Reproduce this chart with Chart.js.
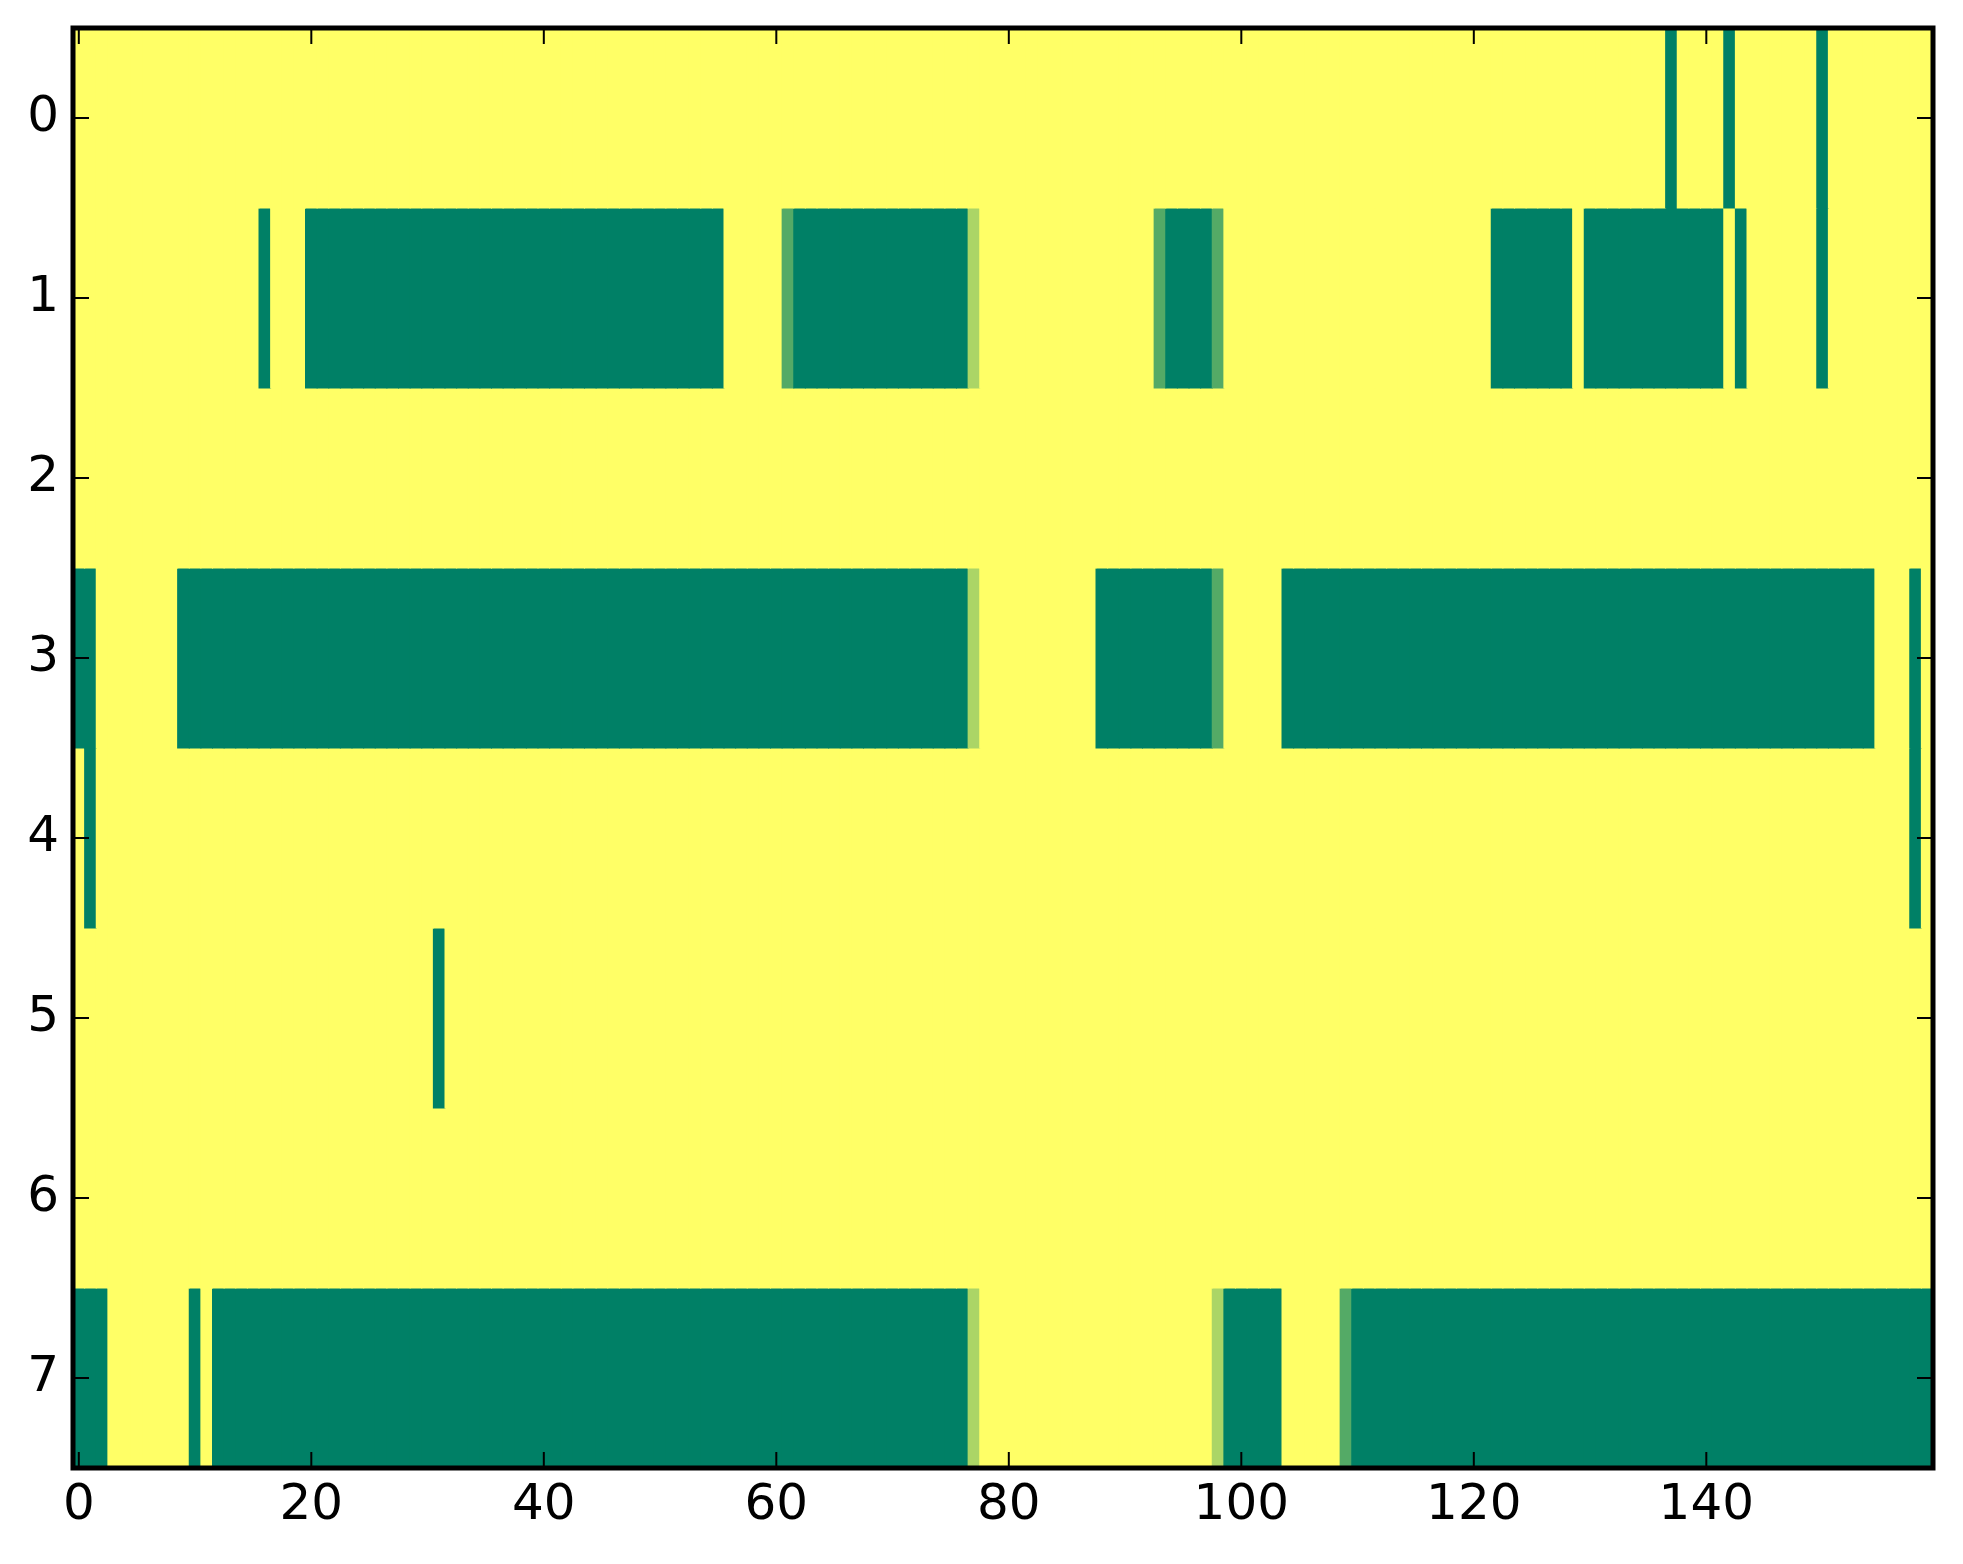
<!DOCTYPE html>
<html lang="en">
<head>
    <meta charset="UTF-8">
    <title>Heatmap</title>
    <script src="https://cdn.jsdelivr.net/npm/chart.js"></script>
    <style>
        html, body {
            margin: 0;
            padding: 0;
            background: #fff;
        }
        #wrap {
            width: 1963px;
            height: 1564px;
        }
    </style>
</head>
<body>
    <div id="wrap">
        <canvas id="myChart" width="1963" height="1564"></canvas>
    </div>

    <script>
        // cell values, one array per row (0 = dark green, 1 = yellow), 160 columns each
        const row0 = [
            1,1,1,1,1,1,1,1,1,1,1,1,1,1,1,1,1,1,1,1,
            1,1,1,1,1,1,1,1,1,1,1,1,1,1,1,1,1,1,1,1,
            1,1,1,1,1,1,1,1,1,1,1,1,1,1,1,1,1,1,1,1,
            1,1,1,1,1,1,1,1,1,1,1,1,1,1,1,1,1,1,1,1,
            1,1,1,1,1,1,1,1,1,1,1,1,1,1,1,1,1,1,1,1,
            1,1,1,1,1,1,1,1,1,1,1,1,1,1,1,1,1,1,1,1,
            1,1,1,1,1,1,1,1,1,1,1,1,1,1,1,1,1,0,1,1,
            1,1,0,1,1,1,1,1,1,1,0,1,1,1,1,1,1,1,1,1
        ];
        const row1 = [
            1,1,1,1,1,1,1,1,1,1,1,1,1,1,1,1,0,1,1,1,
            0,0,0,0,0,0,0,0,0,0,0,0,0,0,0,0,0,0,0,0,
            0,0,0,0,0,0,0,0,0,0,0,0,0,0,0,0,1,1,1,1,
            1,0.33,0,0,0,0,0,0,0,0,0,0,0,0,0,0,0,0.67,1,1,
            1,1,1,1,1,1,1,1,1,1,1,1,1,0.33,0,0,0,0,0.33,1,
            1,1,1,1,1,1,1,1,1,1,1,1,1,1,1,1,1,1,1,1,
            1,1,0,0,0,0,0,0,0,1,0,0,0,0,0,0,0,0,0,0,
            0,0,1,0,1,1,1,1,1,1,0,1,1,1,1,1,1,1,1,1
        ];
        const row2 = [
            1,1,1,1,1,1,1,1,1,1,1,1,1,1,1,1,1,1,1,1,
            1,1,1,1,1,1,1,1,1,1,1,1,1,1,1,1,1,1,1,1,
            1,1,1,1,1,1,1,1,1,1,1,1,1,1,1,1,1,1,1,1,
            1,1,1,1,1,1,1,1,1,1,1,1,1,1,1,1,1,1,1,1,
            1,1,1,1,1,1,1,1,1,1,1,1,1,1,1,1,1,1,1,1,
            1,1,1,1,1,1,1,1,1,1,1,1,1,1,1,1,1,1,1,1,
            1,1,1,1,1,1,1,1,1,1,1,1,1,1,1,1,1,1,1,1,
            1,1,1,1,1,1,1,1,1,1,1,1,1,1,1,1,1,1,1,1
        ];
        const row3 = [
            0,0,1,1,1,1,1,1,1,0,0,0,0,0,0,0,0,0,0,0,
            0,0,0,0,0,0,0,0,0,0,0,0,0,0,0,0,0,0,0,0,
            0,0,0,0,0,0,0,0,0,0,0,0,0,0,0,0,0,0,0,0,
            0,0,0,0,0,0,0,0,0,0,0,0,0,0,0,0,0,0.67,1,1,
            1,1,1,1,1,1,1,1,0,0,0,0,0,0,0,0,0,0,0.33,1,
            1,1,1,1,0,0,0,0,0,0,0,0,0,0,0,0,0,0,0,0,
            0,0,0,0,0,0,0,0,0,0,0,0,0,0,0,0,0,0,0,0,
            0,0,0,0,0,0,0,0,0,0,0,0,0,0,0,1,1,1,0,1
        ];
        const row4 = [
            1,0,1,1,1,1,1,1,1,1,1,1,1,1,1,1,1,1,1,1,
            1,1,1,1,1,1,1,1,1,1,1,1,1,1,1,1,1,1,1,1,
            1,1,1,1,1,1,1,1,1,1,1,1,1,1,1,1,1,1,1,1,
            1,1,1,1,1,1,1,1,1,1,1,1,1,1,1,1,1,1,1,1,
            1,1,1,1,1,1,1,1,1,1,1,1,1,1,1,1,1,1,1,1,
            1,1,1,1,1,1,1,1,1,1,1,1,1,1,1,1,1,1,1,1,
            1,1,1,1,1,1,1,1,1,1,1,1,1,1,1,1,1,1,1,1,
            1,1,1,1,1,1,1,1,1,1,1,1,1,1,1,1,1,1,0,1
        ];
        const row5 = [
            1,1,1,1,1,1,1,1,1,1,1,1,1,1,1,1,1,1,1,1,
            1,1,1,1,1,1,1,1,1,1,1,0,1,1,1,1,1,1,1,1,
            1,1,1,1,1,1,1,1,1,1,1,1,1,1,1,1,1,1,1,1,
            1,1,1,1,1,1,1,1,1,1,1,1,1,1,1,1,1,1,1,1,
            1,1,1,1,1,1,1,1,1,1,1,1,1,1,1,1,1,1,1,1,
            1,1,1,1,1,1,1,1,1,1,1,1,1,1,1,1,1,1,1,1,
            1,1,1,1,1,1,1,1,1,1,1,1,1,1,1,1,1,1,1,1,
            1,1,1,1,1,1,1,1,1,1,1,1,1,1,1,1,1,1,1,1
        ];
        const row6 = [
            1,1,1,1,1,1,1,1,1,1,1,1,1,1,1,1,1,1,1,1,
            1,1,1,1,1,1,1,1,1,1,1,1,1,1,1,1,1,1,1,1,
            1,1,1,1,1,1,1,1,1,1,1,1,1,1,1,1,1,1,1,1,
            1,1,1,1,1,1,1,1,1,1,1,1,1,1,1,1,1,1,1,1,
            1,1,1,1,1,1,1,1,1,1,1,1,1,1,1,1,1,1,1,1,
            1,1,1,1,1,1,1,1,1,1,1,1,1,1,1,1,1,1,1,1,
            1,1,1,1,1,1,1,1,1,1,1,1,1,1,1,1,1,1,1,1,
            1,1,1,1,1,1,1,1,1,1,1,1,1,1,1,1,1,1,1,1
        ];
        const row7 = [
            0,0,0,1,1,1,1,1,1,1,0,1,0,0,0,0,0,0,0,0,
            0,0,0,0,0,0,0,0,0,0,0,0,0,0,0,0,0,0,0,0,
            0,0,0,0,0,0,0,0,0,0,0,0,0,0,0,0,0,0,0,0,
            0,0,0,0,0,0,0,0,0,0,0,0,0,0,0,0,0,0.67,1,1,
            1,1,1,1,1,1,1,1,1,1,1,1,1,1,1,1,1,1,0.67,0,
            0,0,0,0,1,1,1,1,1,0.33,0,0,0,0,0,0,0,0,0,0,
            0,0,0,0,0,0,0,0,0,0,0,0,0,0,0,0,0,0,0,0,
            0,0,0,0,0,0,0,0,0,0,0,0,0,0,0,0,0,0,0,0
        ];
        const rows = [row0, row1, row2, row3, row4, row5, row6, row7];

        const xTicks = [0, 20, 40, 60, 80, 100, 120, 140];
        const yTicks = [0, 1, 2, 3, 4, 5, 6, 7];
        const columns = row0.map((v, i) => String(i));

        // matplotlib "summer" colormap
        function summer(v) {
            const r = Math.round(255 * v);
            const g = Math.round(255 * (0.5 + v / 2));
            return 'rgb(' + r + ',' + g + ',102)';
        }

        const datasets = rows.map((vals, r) => ({
            label: 'row ' + r,
            data: vals.map(() => [r - 0.5, r + 0.5]),
            backgroundColor: vals.map(summer),
            borderWidth: 0,
            barPercentage: 1,
            categoryPercentage: 1,
            grouped: false,
            inflateAmount: 0.5
        }));

        // frame and inward tick marks on all four sides
        const frameTicks = {
            id: 'frameTicks',
            afterDraw(chart) {
                const ctx = chart.ctx;
                const a = chart.chartArea;
                const xs = chart.scales.x;
                const ys = chart.scales.y;
                const len = 16;
                ctx.save();
                ctx.strokeStyle = '#000';
                ctx.lineWidth = 2;
                ctx.beginPath();
                xs.ticks.forEach((t, i) => {
                    const x = xs.getPixelForTick(i);
                    ctx.moveTo(x, a.bottom);
                    ctx.lineTo(x, a.bottom - len);
                    ctx.moveTo(x, a.top);
                    ctx.lineTo(x, a.top + len);
                });
                ys.ticks.forEach((t, i) => {
                    const y = ys.getPixelForTick(i);
                    ctx.moveTo(a.left, y);
                    ctx.lineTo(a.left + len, y);
                    ctx.moveTo(a.right, y);
                    ctx.lineTo(a.right - len, y);
                });
                ctx.stroke();
                ctx.lineWidth = 5;
                ctx.strokeRect(a.left, a.top, a.right - a.left, a.bottom - a.top);
                ctx.restore();
            }
        };

        const ctx = document.getElementById('myChart').getContext('2d');
        const myChart = new Chart(ctx, {
            type: 'bar',
            data: {
                labels: columns,
                datasets: datasets
            },
            options: {
                responsive: false,
                devicePixelRatio: 1,
                animation: false,
                layout: {
                    padding: { top: 28, right: 30, left: 0, bottom: 0 }
                },
                scales: {
                    x: {
                        type: 'category',
                        offset: true,
                        grid: { display: false, drawTicks: false },
                        border: { display: false },
                        ticks: {
                            autoSkip: false,
                            maxRotation: 0,
                            padding: 8,
                            color: '#000',
                            font: { family: 'DejaVu Sans', size: 50 }
                        },
                        afterBuildTicks(scale) {
                            scale.ticks = scale.ticks.filter(t => xTicks.includes(t.value));
                        },
                        afterFit(scale) {
                            scale.height = 96;
                            scale.paddingLeft = 0;
                            scale.paddingRight = 0;
                        }
                    },
                    y: {
                        type: 'linear',
                        reverse: true,
                        min: -0.5,
                        max: 7.5,
                        grid: { display: false, drawTicks: false },
                        border: { display: false },
                        ticks: {
                            padding: 14,
                            color: '#000',
                            font: { family: 'DejaVu Sans', size: 50 }
                        },
                        afterBuildTicks(scale) {
                            scale.ticks = yTicks.map(v => ({ value: v }));
                        },
                        afterFit(scale) {
                            scale.width = 73;
                            scale.paddingTop = 0;
                            scale.paddingBottom = 0;
                        }
                    }
                },
                plugins: {
                    legend: { display: false },
                    tooltip: { enabled: false }
                }
            },
            plugins: [frameTicks]
        });
    </script>
</body>
</html>
